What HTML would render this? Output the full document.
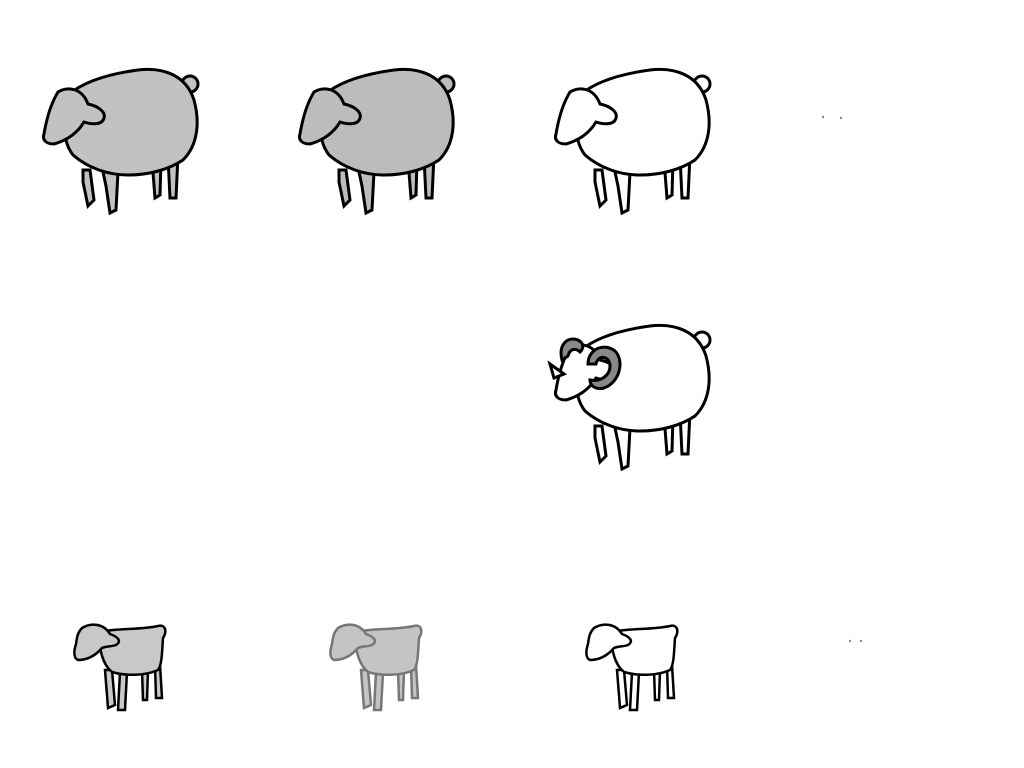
<!DOCTYPE html>
<html><head><meta charset="utf-8"><style>
html,body{margin:0;padding:0;background:#fff;width:1024px;height:768px;overflow:hidden}
</style></head><body>
<svg width="1024" height="768" viewBox="0 0 1024 768">
<defs>
<g id="sheep">
  <path d="M55,110 L62,110 L66,140 L60,146 L55,122 Z"/>
  <path d="M75,112 L90,112 L88,150 L82,153 L78,126 Z"/>
  <path d="M124,100 L133,100 L132,135 L127,138 Z"/>
  <path d="M140,97 L150,95 L148,138 L142,138 Z"/>
  <circle cx="162" cy="24" r="8"/>
  <path d="M40,35 C55,22 80,14 110,10 C135,7 158,15 166,40 C172,62 170,85 155,100 C140,110 120,115 100,115 C80,115 60,108 45,95 C35,82 33,60 40,35 Z"/>
  <path d="M30,32 C40,26 54,28 60,44 C70,46 78,52 76,58 C74,66 62,64 56,62 C50,72 40,80 26,84 C18,84 14,80 16,74 C18,62 22,45 30,32 Z"/>
</g>
<g id="lamb">
  <path d="M35,50 L42,50 L45,85 L38,88 Z"/>
  <path d="M50,52 L57,52 L55,90 L48,90 Z"/>
  <path d="M72,50 L78,50 L77,80 L73,80 Z"/>
  <path d="M85,45 L90,45 L92,78 L86,78 Z"/>
  <path d="M30,12 C45,8 70,10 88,6 C96,4 97,12 93,18 C92,32 92,45 88,50 C75,56 55,56 42,52 C33,45 28,28 30,12 Z"/>
  <path d="M12,8 C22,2 34,4 40,14 C48,17 52,21 46,25 C40,27 36,26 32,28 C26,35 18,40 8,40 C3,38 4,30 6,24 C7,16 8,12 12,8 Z"/>
</g>
</defs>
<g transform="translate(28,60)" fill="#c2c2c2" stroke="#000" stroke-width="3"><use href="#sheep"/></g>
<g transform="translate(284,60)" fill="#bcbcbc" stroke="#000" stroke-width="3"><use href="#sheep"/></g>
<g transform="translate(540,60)" fill="#fff" stroke="#000" stroke-width="3"><use href="#sheep"/></g>
<g fill="#888"><circle cx="823" cy="117" r="1.2"/><circle cx="841" cy="118" r="1.2"/></g>
<g transform="translate(540,316)" fill="#fff" stroke="#000" stroke-width="3">
  <use href="#sheep"/>
  <path d="M10,48 L24,58 L14,62 Z" fill="#fff"/>
  <path d="M22,44 C18,28 28,20 38,24 C44,27 44,32 40,36 C36,32 30,32 28,40 Z" fill="#888"/>
  <path d="M48,48 C48,32 66,26 76,36 C84,46 80,66 64,72 C56,74 50,70 50,64 C60,66 70,60 70,50 C70,40 58,38 56,48 Z" fill="#888"/>
</g>
<g transform="translate(70,620)" fill="#c8c8c8" stroke="#000" stroke-width="2.5"><use href="#lamb"/></g>
<g transform="translate(326,620)" fill="#c4c4c4" stroke="#777" stroke-width="2.5"><use href="#lamb"/></g>
<g transform="translate(582,620)" fill="#fff" stroke="#000" stroke-width="2.5"><use href="#lamb"/></g>
<g fill="#888"><circle cx="850" cy="641" r="1.2"/><circle cx="861" cy="641" r="1.2"/></g>
</svg>
</body></html>
